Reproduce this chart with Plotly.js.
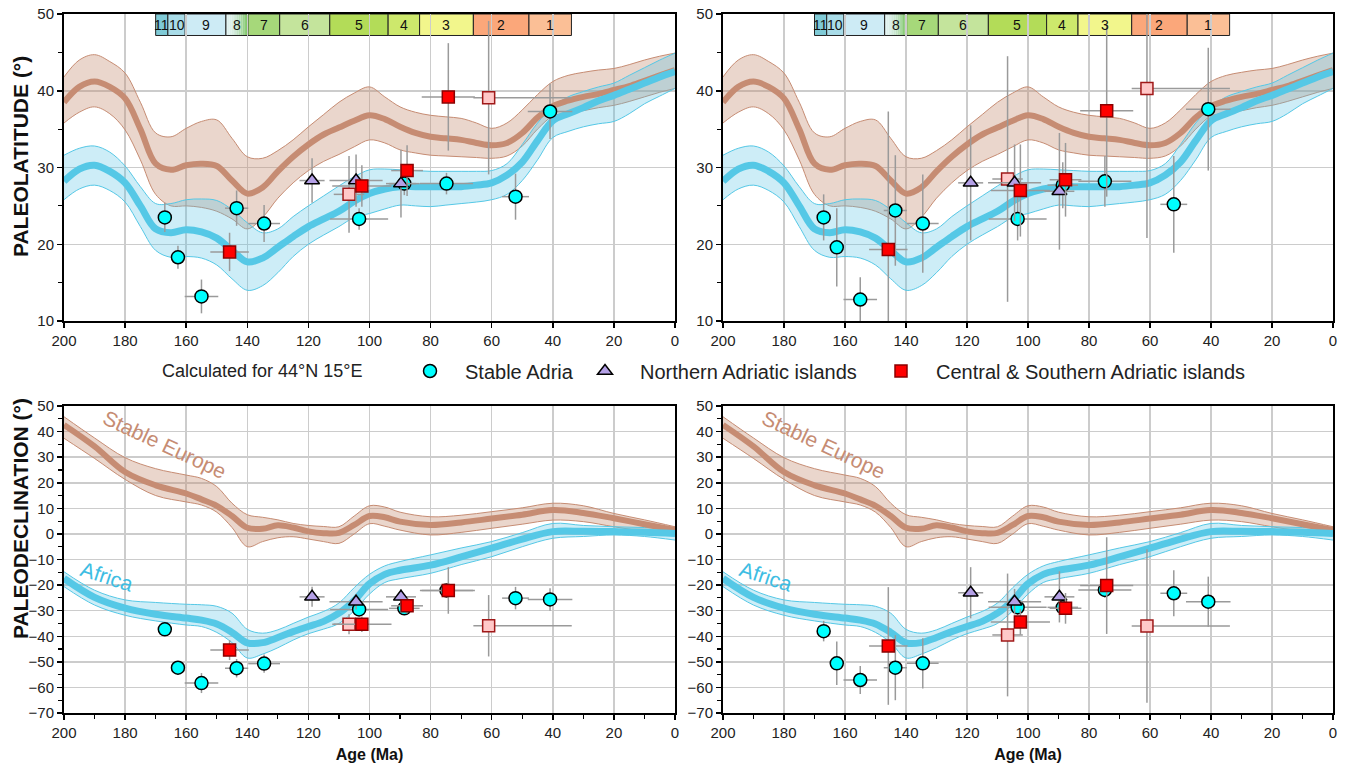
<!DOCTYPE html>
<html><head><meta charset="utf-8">
<script src="https://cdn.plot.ly/plotly-3.0.1.min.js"></script>
<style>html,body{margin:0;padding:0;background:#fff;}#chart{width:1351px;height:771px;}</style>
</head><body><div id="chart"></div>
<script>
// ---------- APWP curves: paleolatitude (5 Ma steps) ----------
const latAges = [200,195,190,185,180,175,170,165,160,155,150,145,140,135,130,125,120,115,110,105,100,95,90,85,80,75,70,65,60,55,50,45,40,35,30,25,20,15,10,5,0];
const eurLat   = [38.5,40.5,41.2,40.5,39.0,35.0,30.5,29.7,30.3,30.5,30.2,28.3,26.6,27.4,29.5,31.4,33.0,34.3,35.2,36.1,36.8,36.3,35.3,34.5,34.0,33.8,33.6,33.2,32.9,33.2,34.5,36.5,38.0,38.7,39.2,39.6,40.1,40.6,41.3,42.0,42.7];
const eurLatHi = [41.8,44.0,44.7,43.8,42.3,38.5,34.5,34.0,35.1,36.0,36.2,33.8,31.4,31.2,32.2,33.6,35.3,36.9,38.5,39.7,40.5,39.2,37.9,37.2,36.8,36.6,36.4,35.8,35.1,35.8,37.5,39.5,41.2,42.0,42.4,42.7,42.9,43.4,44.0,44.5,44.9];
const eurLatLo = [35.8,37.2,37.9,37.0,34.9,31.0,26.5,25.0,25.0,24.8,24.3,23.3,22.0,23.5,26.0,28.0,29.6,30.8,31.7,32.7,33.6,33.2,32.3,31.9,31.6,31.5,31.4,31.3,31.2,31.5,32.8,35.0,36.7,37.1,37.4,37.8,38.1,38.6,39.2,39.8,40.3];
const afrLat   = [28.2,29.8,30.3,29.5,28.0,25.0,22.0,21.5,21.9,21.6,20.8,19.2,17.7,18.2,19.6,21.0,22.3,23.3,24.3,25.6,26.6,27.2,27.5,27.5,27.5,27.5,27.5,27.7,28.0,29.0,30.7,33.5,36.1,37.0,37.8,38.7,39.4,40.2,41.0,41.8,42.5];
const afrLatHi = [31.6,32.5,32.8,32.0,30.2,27.5,25.3,25.3,25.8,25.9,25.7,24.5,22.8,21.5,22.0,23.6,25.0,26.3,27.6,28.8,29.7,29.8,29.7,29.6,29.5,29.5,29.5,29.5,29.6,30.5,33.0,35.8,37.9,39.2,39.9,40.5,41.0,42.0,43.0,44.0,44.9];
const afrLatLo = [25.8,27.2,27.7,27.0,25.5,22.3,19.2,18.3,18.4,18.2,17.3,15.5,14.0,14.6,16.3,18.4,20.0,21.2,22.3,23.5,24.0,24.6,25.1,25.0,24.9,25.1,25.3,25.5,25.8,26.5,28.3,31.0,33.9,34.7,35.3,35.7,36.0,37.0,38.3,39.3,40.3];

// ---------- APWP curves: paleodeclination ----------
const decAges = [200,190,180,170,160,155,150,145,140,135,130,125,120,115,110,105,100,95,90,80,70,60,50,40,30,20,10,0];
const eurDec   = [42.6,34.2,24.2,19.0,15.8,13.5,11.0,7.0,2.4,2.0,3.4,2.5,1.0,0.3,0.4,3.5,7.0,6.5,4.8,3.5,4.5,6.0,7.5,9.3,8.2,6.1,3.8,1.5];
const eurDecHi = [45.8,37.5,29.8,25.5,23.0,21.7,18.5,12.0,7.5,6.5,5.5,4.1,3.3,2.9,2.8,7.0,11.0,10.5,8.5,6.7,7.3,8.7,10.2,12.0,11.0,8.0,5.5,2.8];
const eurDecLo = [37.4,29.5,21.3,15.0,12.5,11.3,8.5,2.5,-5.0,-3.0,-1.5,-1.1,-2.0,-3.0,-3.7,0.0,4.0,3.0,1.5,-0.4,0.6,2.2,3.8,5.4,4.8,2.8,1.0,-0.4];
const afrDec   = [-17.4,-24.8,-29.0,-31.4,-32.9,-33.7,-35.2,-38.5,-42.6,-42.5,-40.5,-38.2,-36.2,-34.2,-31.0,-26.0,-19.5,-15.8,-14.2,-12.2,-9.0,-5.6,-2.0,0.9,1.0,0.9,0.7,0.2];
const afrDecHi = [-14.8,-22.0,-25.8,-26.8,-27.5,-27.7,-28.3,-31.0,-37.3,-38.8,-37.5,-35.0,-32.5,-30.3,-27.0,-21.0,-15.8,-12.5,-10.8,-8.2,-5.5,-3.0,0.5,4.1,3.3,2.8,2.5,2.2];
const afrDecLo = [-20.6,-27.8,-31.8,-34.0,-35.6,-36.2,-38.5,-42.5,-48.5,-47.0,-44.5,-41.5,-39.0,-37.2,-35.0,-30.0,-23.5,-19.0,-17.5,-15.4,-12.0,-8.9,-5.0,-1.7,-1.0,-0.4,-1.0,-2.4];

// ---------- Stable Adria (circles) ----------
const adriaAge    = [167,162.7,155,143.5,134.5,103.4,88.6,74.8,52.2,40.9];
const adriaAgeErr = [0,0,5.5,3.8,5.2,9.5,5,8.7,4.4,7.3];
const adriaLatL = [23.5,18.3,13.2,24.7,22.7,23.3,27.9,27.9,26.2,37.3];
const adriaLatLErr = [1.9,1.5,2.2,2.3,2.4,1.4,1.5,1.4,3.0,3.6];
const adriaDecL = [-37.3,-52.3,-58.3,-52.5,-50.7,-29.5,-29.1,-22.1,-25.1,-25.6];
const adriaDecLErr = [2.6,2,3.9,3.6,3.6,2,2,2,4.4,4.4];
const adriaLatR = [23.5,19.6,12.8,24.4,22.7,23.3,27.7,28.2,25.2,37.6];
const adriaLatRErr = [3,5.1,2.9,7.2,6.4,2.8,3,3.3,6.3,8];
const adriaDecR = [-38.0,-50.6,-57.1,-52.3,-50.6,-28.7,-28.7,-21.9,-23.2,-26.5];
const adriaDecRErr = [4,8.5,5.5,12.7,9.8,3,3,3,9,9.8];

// ---------- Northern Adriatic islands (triangles) ----------
const northAge    = [118.8,104.4,89.7];
const northAgeErr = [4.1,8.7,4.9];
const northLatL = [28.3,28.3,27.9];   const northLatLErr = [2.9,3.4,4.4];
const northDecL = [-24.6,-26.5,-24.6]; const northDecLErr = [3.9,3,3];
const northLatR = [28.0,28.0,26.9];   const northLatRErr = [7.5,5,7.6];
const northDecR = [-23.0,-26.5,-24.6]; const northDecRErr = [10,5,10];

// ---------- Central & Southern Adriatic islands (red squares) ----------
const csAge    = [145.8,102.5,87.7,74.2];
const csAgeErr = [6.3,9.7,5.2,8.7];
const csLatL = [19.0,27.6,29.6,39.2];   const csLatLErr = [2.5,2.7,3.3,7];
const csDecL = [-45.4,-35.3,-28.1,-22.1]; const csDecLErr = [3.9,3,3,9.1];
const csLatR = [19.3,27.0,28.4,37.4];   const csLatRErr = [18,6,4.8,11.2];
const csDecR = [-43.8,-34.4,-29.1,-20.2]; const csDecRErr = [23,5,6,18.9];

// ---------- Central & Southern, pale squares ----------
const pinkAge        = [106.7,61];
const pinkAgeErrOld  = [5,5];
const pinkAgeErrYoung= [5,27.2];
const pinkLatL = [26.5,39.1];   const pinkLatLErr = [5,10];
const pinkDecL = [-35.3,-35.9]; const pinkDecLErr = [3.9,12];
const pinkLatR = [28.5,40.3];   const pinkLatRErr = [16,19.5];
const pinkDecR = [-39.5,-36.0]; const pinkDecRErr = [24,30];

// ---------- Stage boxes ----------
const stageLabels = ['11','10','9','8','7','6','5','4','3','2','1'];
const stageOld    = [170,166,160.3,147,139.8,129.4,113,93.9,83.6,66,47.8];
const stageYoung  = [166,160.3,147,139.8,129.4,113,93.9,83.6,66,47.8,33.9];
const stageColors = ['#7fcad6','#a9dce8','#cdebf5',null,'#a6d87a','#c4e49c','#b3dc58','#cde86c','#f2f68c','#fba77a','#fbbf96'];

// ---------- styles ----------
const EUR = '#c68c73', AFR = '#55c8e6';
const EUR_FILL = 'rgba(198,140,115,0.36)', AFR_FILL = 'rgba(90,195,230,0.3)';
const ERR = {color:'#9a9a9a', thickness:1.5, width:0};
const FONT = 'Liberation Sans, Arial, sans-serif';

const traces = [];
function band(xs, lo, hi, lineC, fillC, xa, ya){
  traces.push({x:xs, y:lo, xaxis:xa, yaxis:ya, mode:'lines', line:{color:lineC, width:1, shape:'spline'}, showlegend:false, hoverinfo:'skip'});
  traces.push({x:xs, y:hi, xaxis:xa, yaxis:ya, mode:'lines', fill:'tonexty', fillcolor:fillC, line:{color:lineC, width:1, shape:'spline'}, showlegend:false, hoverinfo:'skip'});
}
function center(xs, ys, c, w, xa, ya){
  traces.push({x:xs, y:ys, xaxis:xa, yaxis:ya, mode:'lines', line:{color:c, width:w, shape:'spline'}, showlegend:false, hoverinfo:'skip'});
}
function pts(x, xerr, xerrMinus, y, yerr, marker, name, xa, ya, leg){
  const t = {x:x, y:y, xaxis:xa, yaxis:ya, mode:'markers', name:name, marker:marker,
    error_x: Object.assign({type:'data', array:xerr, arrayminus:xerrMinus, visible:true}, ERR),
    error_y: Object.assign({type:'data', array:yerr, visible:true}, ERR),
    showlegend: !!leg};
  if (leg) t.legend = leg;
  traces.push(t);
}
const mCircle = {symbol:'circle', size:13, color:'#00ffff', line:{color:'#000', width:1.5}};
const mTri = {symbol:'triangle-up', size:13, color:'#b4a0e6', line:{color:'#000', width:1.5}};
const mRed = {symbol:'square', size:12, color:'#ff0000', line:{color:'#8b0000', width:1.5}};
const mPink = {symbol:'square', size:12, color:'#ffc8c8', line:{color:'#a01818', width:1.5}};

const panels = [
  {xa:'x', ya:'y', kind:'lat', side:'L'},
  {xa:'x2', ya:'y2', kind:'lat', side:'R'},
  {xa:'x3', ya:'y3', kind:'dec', side:'L'},
  {xa:'x4', ya:'y4', kind:'dec', side:'R'}
];
panels.forEach((p, i) => {
  const lat = p.kind === 'lat';
  const A = lat ? latAges : decAges;
  band(A, lat?eurLatLo:eurDecLo, lat?eurLatHi:eurDecHi, EUR, EUR_FILL, p.xa, p.ya);
  band(A, lat?afrLatLo:afrDecLo, lat?afrLatHi:afrDecHi, AFR, AFR_FILL, p.xa, p.ya);
  center(A, lat?eurLat:eurDec, EUR, 6, p.xa, p.ya);
  center(A, lat?afrLat:afrDec, AFR, 7, p.xa, p.ya);
  const L = p.side === 'L';
  const aY = lat ? (L?adriaLatL:adriaLatR) : (L?adriaDecL:adriaDecR);
  const aE = lat ? (L?adriaLatLErr:adriaLatRErr) : (L?adriaDecLErr:adriaDecRErr);
  const nY = lat ? (L?northLatL:northLatR) : (L?northDecL:northDecR);
  const nE = lat ? (L?northLatLErr:northLatRErr) : (L?northDecLErr:northDecRErr);
  const cY = lat ? (L?csLatL:csLatR) : (L?csDecL:csDecR);
  const cE = lat ? (L?csLatLErr:csLatRErr) : (L?csDecLErr:csDecRErr);
  const pY = lat ? (L?pinkLatL:pinkLatR) : (L?pinkDecL:pinkDecR);
  const pE = lat ? (L?pinkLatLErr:pinkLatRErr) : (L?pinkDecLErr:pinkDecRErr);
  pts(pinkAge, pinkAgeErrOld, pinkAgeErrYoung, pY, pE, mPink, 'Central & Southern Adriatic islands (pale)', p.xa, p.ya, null);
  pts(adriaAge, adriaAgeErr, adriaAgeErr, aY, aE, mCircle, 'Stable Adria', p.xa, p.ya, i===0?'legend':null);
  pts(northAge, northAgeErr, northAgeErr, nY, nE, mTri, 'Northern Adriatic islands', p.xa, p.ya, i===0?'legend2':null);
  pts(csAge, csAgeErr, csAgeErr, cY, cE, mRed, 'Central & Southern Adriatic islands', p.xa, p.ya, i===0?'legend3':null);
});

// ---------- shapes: stage boxes ----------
const shapes = [];
const annotations = [];
['x','x2'].forEach((xa, k) => {
  const ya = k===0 ? 'y' : 'y2';
  stageLabels.forEach((lab, i) => {
    if (stageColors[i]) {
      shapes.push({type:'rect', xref:xa, yref:ya, x0:stageOld[i], x1:stageYoung[i], y0:47.2, y1:50, fillcolor:stageColors[i], line:{color:'#222', width:1}, layer:'below'});
    } else {
      const n = 12, c0 = [222,240,238], c1 = [122,196,96];
      for (let s = 0; s < n; s++) {
        const f = s/(n-1);
        const col = 'rgb(' + c0.map((v,j)=>Math.round(v+(c1[j]-v)*f*f)).join(',') + ')';
        const w = (stageOld[i]-stageYoung[i])/n;
        shapes.push({type:'rect', xref:xa, yref:ya, x0:stageOld[i]-s*w, x1:stageOld[i]-(s+1)*w, y0:47.2, y1:50, fillcolor:col, line:{width:0}, layer:'below'});
      }
      shapes.push({type:'rect', xref:xa, yref:ya, x0:stageOld[i], x1:stageYoung[i], y0:47.2, y1:50, line:{color:'#222', width:1}, layer:'below'});
    }
    annotations.push({xref:xa, yref:ya, x:(stageOld[i]+stageYoung[i])/2, y:48.6, text:lab, showarrow:false, font:{family:FONT, size:14, color:'#111'}});
  });
});

// curve labels
[['x3','y3'],['x4','y4']].forEach(([xa,ya]) => {
  annotations.push({xref:xa, yref:ya, x:167, y:34.8, text:'Stable Europe', textangle:25, showarrow:false, font:{family:FONT, size:21, color:EUR}});
  annotations.push({xref:xa, yref:ya, x:185.8, y:-16.7, text:'Africa', textangle:18, showarrow:false, font:{family:FONT, size:21, color:'#3dbde3'}});
});
// axis titles
const TFONT = {family:'Liberation Sans Narrow, Arial Narrow, Liberation Sans, Arial', size:21, color:'#111'};
annotations.push({xref:'paper', yref:'paper', x:20/1351, y:(771-157)/771, xanchor:'center', yanchor:'middle', text:'<b>PALEOLATITUDE (°)</b>', textangle:-90, showarrow:false, font:TFONT});
annotations.push({xref:'paper', yref:'paper', x:20/1351, y:(771-519)/771, xanchor:'center', yanchor:'middle', text:'<b>PALEODECLINATION (°)</b>', textangle:-90, showarrow:false, font:TFONT});
annotations.push({xref:'paper', yref:'paper', x:160/1351, xanchor:'left', y:(771-371)/771, yanchor:'middle', text:'Calculated for 44°N 15°E', showarrow:false, font:{family:FONT, size:18, color:'#222'}});

const tickfont = {family:FONT, size:15, color:'#222'};
function xax(dom, anchor, minor, title){
  const a = {domain:dom, anchor:anchor, range:[200,0], tick0:0, dtick:20, showgrid:true, gridcolor:'#cccccc', gridwidth:1.5,
    showline:true, linecolor:'#000', linewidth:2, mirror:true, ticks:'outside', ticklen:5, tickwidth:1.5, tickcolor:'#000',
    zeroline:false, tickfont:tickfont};
  if (minor) a.minor = {dtick:10, ticks:'outside', ticklen:4, tickcolor:'#000', tickwidth:1.2, showgrid:false};
  if (title) a.title = {text:'<b>Age (Ma)</b>', font:{family:FONT, size:16, color:'#111'}, standoff:9};
  return a;
}
function yax(dom, anchor, range){
  return {domain:dom, anchor:anchor, range:range, dtick:10, showgrid:true, gridcolor:'#cccccc', gridwidth:1.5,
    showline:true, linecolor:'#000', linewidth:2, mirror:true, ticks:'outside', ticklen:5, tickwidth:1.5, tickcolor:'#000',
    zeroline:false, tickfont:tickfont, minor:{dtick:5, ticks:'outside', ticklen:4, tickcolor:'#000', tickwidth:1.2, showgrid:false}};
}
const dxL = [64/1351, 675/1351], dxR = [723/1351, 1333/1351];
const dyT = [(771-321)/771, (771-14)/771], dyB = [(771-713)/771, (771-406)/771];
const legBase = {orientation:'h', yanchor:'middle', y:(771-371)/771, xanchor:'left', bgcolor:'rgba(0,0,0,0)', font:{family:FONT, size:20, color:'#222'}, itemwidth:60};

const layout = {
  width:1351, height:771, margin:{l:0, r:0, t:0, b:0}, paper_bgcolor:'#fff', plot_bgcolor:'#fff',
  xaxis: xax(dxL, 'y', false, false), yaxis: yax(dyT, 'x', [10,50]),
  xaxis2: xax(dxR, 'y2', false, false), yaxis2: yax(dyT, 'x2', [10,50]),
  xaxis3: xax(dxL, 'y3', true, true), yaxis3: yax(dyB, 'x3', [-70,50]),
  xaxis4: xax(dxR, 'y4', true, true), yaxis4: yax(dyB, 'x4', [-70,50]),
  legend: Object.assign({}, legBase, {x:395/1351}),
  legend2: Object.assign({}, legBase, {x:570/1351}),
  legend3: Object.assign({}, legBase, {x:866/1351}),
  shapes: shapes, annotations: annotations, showlegend:true
};
Plotly.newPlot('chart', traces, layout, {displayModeBar:false, staticPlot:true});
</script></body></html>
